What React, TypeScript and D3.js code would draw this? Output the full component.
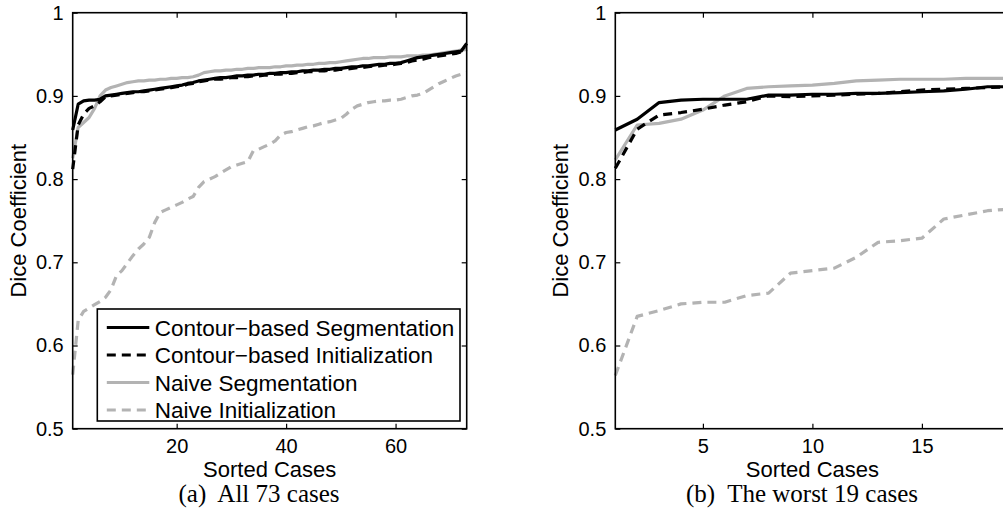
import { useEffect, useRef } from "react"
import * as d3 from "d3"

const yTicks = [0.5, 0.6, 0.7, 0.8, 0.9, 1]
const allTicks = [20, 40, 60]
const worstTicks = [5, 10, 15]

const seriesNames = [
  "Contour−based Segmentation",
  "Contour−based Initialization",
  "Naive Segmentation",
  "Naive Initialization",
]

// all 73 cases, sorted
const allContourSeg = [
  0.859, 0.89, 0.894, 0.895, 0.895, 0.896, 0.9, 0.901, 0.902, 0.903,
  0.904, 0.905, 0.905, 0.906, 0.907, 0.908, 0.909, 0.91, 0.911, 0.912,
  0.913, 0.915, 0.916, 0.918, 0.919, 0.92, 0.921, 0.922, 0.922, 0.923,
  0.924, 0.924, 0.925, 0.925, 0.926, 0.926, 0.927, 0.927, 0.928, 0.928,
  0.929, 0.929, 0.93, 0.93, 0.931, 0.931, 0.932, 0.932, 0.933, 0.933,
  0.934, 0.935, 0.935, 0.936, 0.936, 0.937, 0.938, 0.938, 0.939, 0.939,
  0.94, 0.942, 0.944, 0.946, 0.947, 0.948, 0.949, 0.95, 0.951, 0.952,
  0.953, 0.954, 0.963,
]
const allContourInit = [
  0.812, 0.865, 0.878, 0.885, 0.888, 0.893, 0.899, 0.9, 0.901, 0.902,
  0.903, 0.904, 0.905, 0.905, 0.906, 0.907, 0.908, 0.909, 0.91, 0.911,
  0.912, 0.914, 0.915, 0.917, 0.918, 0.919, 0.92, 0.92, 0.921, 0.922,
  0.922, 0.923, 0.923, 0.924, 0.924, 0.925, 0.925, 0.926, 0.926, 0.927,
  0.927, 0.928, 0.928, 0.929, 0.929, 0.93, 0.93, 0.931, 0.931, 0.932,
  0.932, 0.933, 0.934, 0.934, 0.935, 0.936, 0.936, 0.937, 0.937, 0.938,
  0.939, 0.94, 0.942, 0.943, 0.944, 0.946, 0.947, 0.948, 0.949, 0.95,
  0.951, 0.953, 0.956,
]
const allNaiveSeg = [
  0.825, 0.862, 0.868, 0.874, 0.885, 0.9, 0.907, 0.91, 0.912, 0.914,
  0.916, 0.917, 0.918, 0.918, 0.919, 0.919, 0.92, 0.92, 0.921, 0.921,
  0.922, 0.922, 0.923, 0.925, 0.928, 0.929, 0.93, 0.93, 0.931, 0.931,
  0.932, 0.932, 0.933, 0.933, 0.934, 0.934, 0.934, 0.935, 0.935, 0.936,
  0.936, 0.937, 0.937, 0.938, 0.938, 0.939, 0.939, 0.94, 0.94, 0.941,
  0.942, 0.943, 0.944, 0.945, 0.945, 0.946, 0.946, 0.946, 0.947, 0.947,
  0.947, 0.948, 0.948, 0.948, 0.949, 0.949, 0.95, 0.951, 0.952, 0.953,
  0.954, 0.955, 0.956,
]
const allNaiveInit = [
  0.565, 0.63, 0.641, 0.645, 0.649, 0.653, 0.658, 0.667, 0.684, 0.69,
  0.699, 0.708, 0.716, 0.722, 0.73, 0.748, 0.76, 0.763, 0.766, 0.769,
  0.772, 0.776, 0.779, 0.79, 0.797, 0.8, 0.803, 0.807, 0.811, 0.815,
  0.817, 0.819, 0.821, 0.834, 0.836, 0.839, 0.842, 0.846, 0.853, 0.856,
  0.857, 0.859, 0.861, 0.863, 0.864, 0.866, 0.868, 0.869, 0.871, 0.873,
  0.878, 0.884, 0.888, 0.89, 0.892, 0.893, 0.894, 0.894, 0.895, 0.895,
  0.896, 0.898, 0.9, 0.901, 0.903, 0.907, 0.911, 0.915, 0.918, 0.921,
  0.924, 0.926, 0.928,
]

// the worst 19 cases
const worstContourSeg = [
  0.859, 0.872, 0.892, 0.895, 0.896, 0.896, 0.896, 0.901, 0.901, 0.902,
  0.902, 0.903, 0.903, 0.904, 0.905, 0.906, 0.908, 0.911, 0.911,
]
const worstContourInit = [
  0.813, 0.86, 0.877, 0.88, 0.884, 0.889, 0.893, 0.9, 0.899, 0.9,
  0.901, 0.902, 0.903, 0.905, 0.907, 0.908, 0.909, 0.91, 0.911,
]
const worstNaiveSeg = [
  0.823, 0.865, 0.867, 0.872, 0.883, 0.9, 0.909, 0.911, 0.912, 0.913,
  0.915, 0.918, 0.919, 0.92, 0.92, 0.92, 0.921, 0.921, 0.921,
]
const worstNaiveInit = [
  0.564, 0.635, 0.642, 0.65, 0.652, 0.652, 0.66, 0.663, 0.687, 0.69,
  0.693, 0.706, 0.724, 0.726, 0.729, 0.752, 0.757, 0.762, 0.764,
]

const GRAY = "#b3b3b3"
const styles = [
  { color: "#000", dash: null },
  { color: "#000", dash: "9,6" },
  { color: GRAY, dash: null },
  { color: GRAY, dash: "9,6" },
]

const FONT = "'Liberation Sans', Arial, Helvetica, sans-serif"
const SERIF = "'Liberation Serif', 'Times New Roman', serif"
const W = 1003
const H = 514

export default function App() {
  const svgRef = useRef<SVGSVGElement>(null)

  useEffect(() => {
    document.body.style.margin = "0"
    if (!svgRef.current) return
    const root = d3.select(svgRef.current)
    root.selectAll("*").remove()

    const top = 12.7
    const bottom = 428.7

    const panels = [
      {
        left: 72.7,
        right: 466.7,
        n: 73,
        ticks: allTicks,
        caption: "(a)  All 73 cases",
        captionX: 259,
        series: [allContourSeg, allContourInit, allNaiveSeg, allNaiveInit],
        legend: true,
      },
      {
        left: 615.3,
        right: 615.3 + 18 * 21.9,
        n: 19,
        ticks: worstTicks,
        caption: "(b)  The worst 19 cases",
        captionX: 802,
        series: [worstContourSeg, worstContourInit, worstNaiveSeg, worstNaiveInit],
        legend: false,
      },
    ]

    panels.forEach((p) => {
      const x = d3.scaleLinear().domain([1, p.n]).range([p.left, p.right])
      const y = d3.scaleLinear().domain([0.5, 1]).range([bottom, top])
      const g = root.append("g")

      // lines (gray first so black sits on top)
      const line = d3
        .line<number>()
        .x((_, i) => x(i + 1))
        .y((d) => y(d))
      ;[3, 2, 1, 0].forEach((k) => {
        g.append("path")
          .datum(p.series[k])
          .attr("d", line)
          .attr("fill", "none")
          .attr("stroke", styles[k].color)
          .attr("stroke-width", 3.2)
          .attr("stroke-linejoin", "round")
          .attr("stroke-dasharray", styles[k].dash)
      })

      // axes, ticks pointing inward
      const axes = [
        { ax: d3.axisBottom(x).tickValues(p.ticks), tr: `translate(0,${bottom})`, labels: true },
        { ax: d3.axisTop(x).tickValues(p.ticks), tr: `translate(0,${top})`, labels: false },
        { ax: d3.axisLeft(y).tickValues(yTicks), tr: `translate(${p.left},0)`, labels: true },
        { ax: d3.axisRight(y).tickValues(yTicks), tr: `translate(${p.right},0)`, labels: false },
      ]
      axes.forEach((a, i) => {
        const ax = a.ax
          .tickSizeInner(-5)
          .tickSizeOuter(0)
          .tickPadding(i >= 2 ? 9 : 10)
          .tickFormat(a.labels ? (d: any) => String(d) : () => "")
        const ga = g.append("g").attr("transform", a.tr).call(ax as any)
        ga.select(".domain").remove()
        ga.selectAll("line").attr("stroke", "#000").attr("stroke-width", 1.2)
        ga.selectAll("text")
          .attr("fill", "#000")
          .style("font-family", FONT)
          .style("font-size", "20px")
      })

      g.append("rect")
        .attr("x", p.left)
        .attr("y", top)
        .attr("width", p.right - p.left)
        .attr("height", bottom - top)
        .attr("fill", "none")
        .attr("stroke", "#000")
        .attr("stroke-width", 1.6)

      // labels
      g.append("text")
        .attr("x", (p.left + p.right) / 2)
        .attr("y", 477)
        .attr("text-anchor", "middle")
        .style("font-family", FONT)
        .style("font-size", "22px")
        .text("Sorted Cases")
      g.append("text")
        .attr("transform", `translate(${p.left - 47},${(top + bottom) / 2}) rotate(-90)`)
        .attr("text-anchor", "middle")
        .style("font-family", FONT)
        .style("font-size", "22px")
        .text("Dice Coefficient")
      g.append("text")
        .attr("x", p.captionX)
        .attr("y", 502)
        .attr("text-anchor", "middle")
        .style("font-family", SERIF)
        .style("font-size", "25px")
        .style("white-space", "pre")
        .text(p.caption)

      if (p.legend) {
        const lx = 97.3
        const ly = 309
        const lg = g.append("g")
        lg.append("rect")
          .attr("x", lx)
          .attr("y", ly)
          .attr("width", 460 - lx)
          .attr("height", 421 - ly)
          .attr("fill", "#fff")
          .attr("stroke", "#000")
          .attr("stroke-width", 1.6)
        seriesNames.forEach((name, k) => {
          const cy = ly + 18.5 + k * 27.5
          lg.append("line")
            .attr("x1", lx + 9.5)
            .attr("x2", lx + 52)
            .attr("y1", cy)
            .attr("y2", cy)
            .attr("stroke", styles[k].color)
            .attr("stroke-width", 3.2)
            .attr("stroke-dasharray", styles[k].dash)
          lg.append("text")
            .attr("x", lx + 57.5)
            .attr("y", cy + 8)
            .style("font-family", FONT)
            .style("font-size", "22.5px")
            .text(name)
        })
      }
    })
  }, [])

  return <svg ref={svgRef} width={W} height={H} style={{ display: "block", background: "#fff" }} />
}
